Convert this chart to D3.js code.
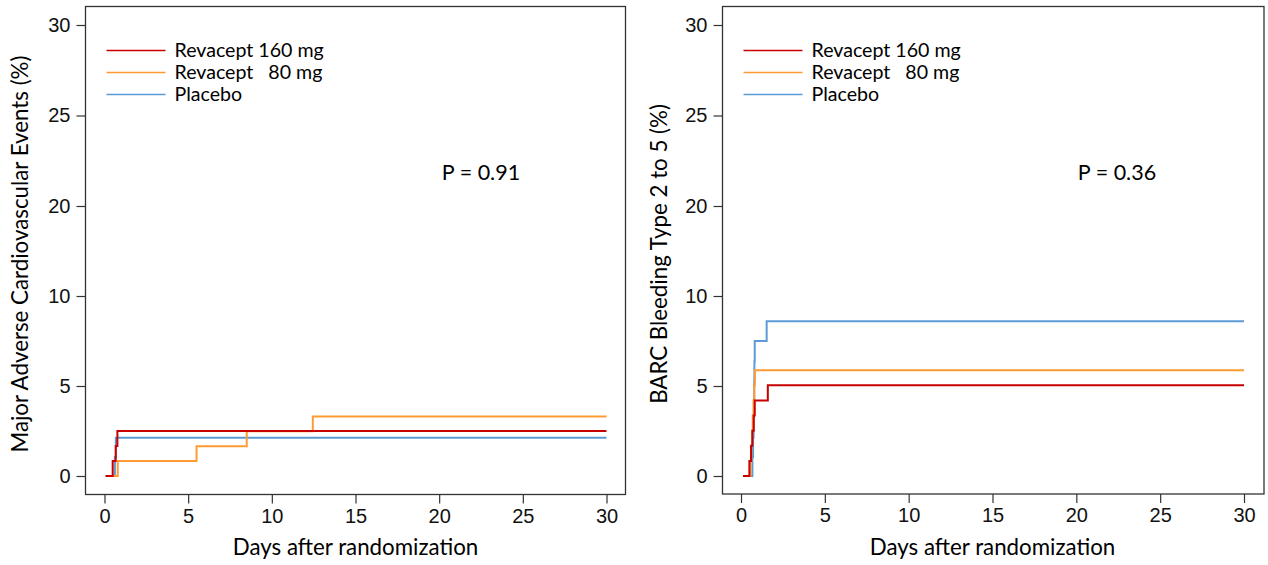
<!DOCTYPE html>
<html>
<head>
<meta charset="utf-8">
<script src="https://cdn.jsdelivr.net/npm/d3@7"></script>
<style>
  body { margin: 0; background: #fff; }
  svg { display: block; font-family: Lato, "Liberation Sans", sans-serif; }
</style>
</head>
<body>
<svg id="chart" width="1268" height="565"></svg>
<script>
// tick labels
const dayTicks = [0, 5, 10, 15, 20, 25, 30];
const pctTicks = [0, 5, 10, 20, 25, 30];   // axis has a break: 15 skipped

const groupNames = ["Revacept 160 mg", "Revacept\u00a0\u00a0 80 mg", "Placebo"];
const groupColors = ["#c80000", "#ff9b33", "#5b9bd5"];

// [day, cumulative %] - MACE
const mace160 = [[0.07, 0], [0.49, 0.83], [0.67, 1.67], [0.77, 2.5], [30, 2.5]];
const mace80 = [[0.07, 0], [0.79, 0.83], [5.5, 1.65], [8.5, 2.48], [12.45, 3.3], [30, 3.3]];
const macePlacebo = [[0.07, 0], [0.62, 1.06], [0.68, 2.13], [30, 2.13]];

// [day, cumulative %] - BARC 2-5 bleeding
const barc160 = [[0.12, 0], [0.5, 0.84], [0.6, 1.68], [0.68, 2.52], [0.76, 3.36], [0.82, 4.2], [1.6, 5.04], [30, 5.04]];
const barc80 = [[0.12, 0], [0.56, 0.84], [0.61, 1.68], [0.66, 2.52], [0.7, 3.36], [0.75, 4.2], [0.79, 5.04], [0.83, 5.88], [30, 5.88]];
const barcPlacebo = [[0.12, 0], [0.68, 1.06], [0.72, 2.13], [0.75, 3.19], [0.77, 4.26], [0.79, 5.32], [0.8, 6.38], [0.82, 7.5], [1.53, 8.6], [30, 8.6]];

const svg = d3.select("#chart");

function drawPanel(opt) {
  const g = svg.append("g");
  const box = opt.box;

  const x = d3.scaleLinear().domain([0, 30]).range([opt.x0, opt.x30]);
  // piecewise: each labelled tick equally spaced
  const y = d3.scaleLinear().domain(pctTicks).range([476, 386, 296, 206, 115.5, 25]);

  // frame
  g.append("rect")
    .attr("x", box[0]).attr("y", box[1])
    .attr("width", box[2] - box[0]).attr("height", box[3] - box[1])
    .attr("fill", "none").attr("stroke", "#333").attr("stroke-width", 1.3);

  // y axis
  const yAxis = d3.axisLeft(y).tickValues(pctTicks).tickSize(9).tickPadding(6);
  const ya = g.append("g").attr("transform", `translate(${box[0]},0)`).call(yAxis);
  ya.select(".domain").remove();
  ya.selectAll("line").attr("stroke", "#333").attr("stroke-width", 1.2);
  ya.selectAll("text").attr("font-size", 20).attr("fill", "#111").attr("font-family", null);

  // x axis
  const xAxis = d3.axisBottom(x).tickValues(dayTicks).tickSize(9).tickPadding(5);
  const xa = g.append("g").attr("transform", `translate(0,${box[3]})`).call(xAxis);
  xa.select(".domain").remove();
  xa.selectAll("line").attr("stroke", "#333").attr("stroke-width", 1.2);
  xa.selectAll("text").attr("font-size", 20).attr("fill", "#111").attr("font-family", null);

  // axis titles
  g.append("text")
    .attr("transform", `translate(${opt.yTitleX},254) rotate(-90)`)
    .attr("text-anchor", "middle")
    .attr("font-size", 22.3)
    .text(opt.yTitle);
  g.append("text")
    .attr("x", (opt.x0 + opt.x30) / 2).attr("y", 555)
    .attr("text-anchor", "middle")
    .attr("font-size", 22.3)
    .text("Days after randomization");

  // curves
  const line = d3.line()
    .x(d => x(d[0]))
    .y(d => y(d[1]))
    .curve(d3.curveStepAfter);
  [2, 1, 0].forEach(i => {
    g.append("path")
      .datum(opt.series[i])
      .attr("d", line)
      .attr("fill", "none")
      .attr("stroke", groupColors[i])
      .attr("stroke-width", 2);
  });

  // legend
  groupNames.forEach((name, i) => {
    const ly = 50.5 + i * 22;
    g.append("line")
      .attr("x1", box[0] + 21).attr("x2", box[0] + 80)
      .attr("y1", ly).attr("y2", ly)
      .attr("stroke", groupColors[i]).attr("stroke-width", 1.6);
    g.append("text")
      .attr("x", box[0] + 89).attr("y", ly + 6.5)
      .attr("font-size", 19.6)
      .text(name);
  });

  // p value
  g.append("text")
    .attr("x", opt.pX).attr("y", 180)
    .attr("text-anchor", "middle")
    .attr("font-size", 21.5)
    .text(opt.pText);
}

drawPanel({
  box: [85.5, 6.5, 625.5, 494.5],
  x0: 104.5, x30: 606.5,
  yTitleX: 28,
  yTitle: "Major Adverse Cardiovascular Events (%)",
  series: [mace160, mace80, macePlacebo],
  pX: 481, pText: "P = 0.91"
});

drawPanel({
  box: [722.5, 6.5, 1264, 494],
  x0: 741, x30: 1244,
  yTitleX: 667,
  yTitle: "BARC Bleeding Type 2 to 5 (%)",
  series: [barc160, barc80, barcPlacebo],
  pX: 1117, pText: "P = 0.36"
});
</script>
</body>
</html>
